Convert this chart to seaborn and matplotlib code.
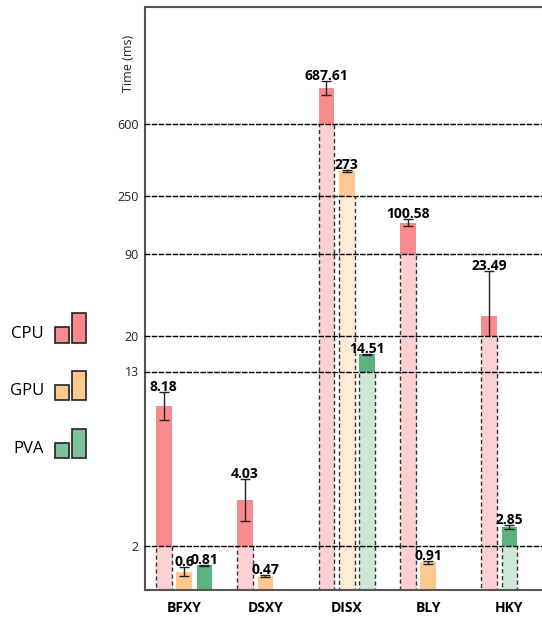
import numpy as np
import pandas as pd
import matplotlib.pyplot as plt
import seaborn as sns
from matplotlib.patches import Rectangle

# data (ms)
datasets = ['BFXY', 'DSXY', 'DISX', 'BLY', 'HKY']
devices = ['CPU', 'GPU', 'PVA']
cpu_ms = [8.18, 4.03, 687.61, 100.58, 23.49]
gpu_ms = [0.6, 0.47, 273, 0.91, np.nan]
pva_ms = [0.81, np.nan, 14.51, np.nan, 2.85]
cpu_err = [0.62, 0.93, 17, 1.1, 7.75]
gpu_err = [0.155, 0.03, 1.0, 0.04, np.nan]
pva_err = [0.03, np.nan, 0.06, np.nan, 0.09]

# broken y axis, one linear band per range (bottom to top)
band_lims = [(0, 1.45), (2, 9.7), (13, 16.1), (20, 34.1), (90, 109.5), (250, 316.2), (600, 887)]
band_ticks = [None, '2', '13', '20', '90', '250', '600']

solid = {'CPU': '#f98b8f', 'GPU': '#fec88e', 'PVA': '#5cb27d'}
light = {'CPU': '#fdd0d1', 'GPU': '#ffebd6', 'PVA': '#cde8d6'}
legend_col = {'CPU': '#f98a8e', 'GPU': '#fec98f', 'PVA': '#7cc39a'}

# bars of a dataset sit side by side, in device order, without gaps for missing ones
rows = []
for i, ds in enumerate(datasets):
    slot = 0
    for dev, vals, errs in zip(devices, [cpu_ms, gpu_ms, pva_ms], [cpu_err, gpu_err, pva_err]):
        if not np.isnan(vals[i]):
            rows.append({'dataset': ds, 'device': dev, 'slot': slot, 'ms': vals[i], 'err': errs[i]})
            slot += 1
df = pd.DataFrame(rows)
info = {r.ms: (r.device, r.err) for r in df.itertuples()}

sns.set_style('white')
plt.rcParams['font.family'] = ['Open Sans', 'DejaVu Sans']
plt.rcParams['text.color'] = 'black'

W, H = 542, 621
fig = plt.figure(figsize=(W / 100, H / 100), dpi=100)

# pixel rows of the band edges, bottom to top
edges = [590, 546, 371.5, 336, 254.3, 196, 124, 7]
ax_left, ax_w = 145 / W, 403.5 / W
spine_col = '#555555'
dash = (0, (3, 2))

for i, (lo, hi) in enumerate(band_lims):
    ax = fig.add_axes([ax_left, (H - edges[i]) / H, ax_w, (edges[i] - edges[i + 1]) / H])
    sns.barplot(data=df, x='dataset', y='ms', hue='slot', order=datasets,
                hue_order=[0, 1, 2], palette=['#cccccc'] * 3, saturation=1,
                width=0.75, gap=0.23, errorbar=None, legend=False, linewidth=0, ax=ax)
    ax.set_xlim(-0.48, 4.48)
    ax.set_ylim(lo, hi)
    ax.patch.set_visible(False)

    for p in ax.patches:
        h = p.get_height()
        if h not in info:
            continue
        dev, err = info[h]
        xc = p.get_x() + p.get_width() / 2
        p.set_facecolor(solid[dev])
        if h > hi:
            p.set_facecolor(light[dev])
            p.set_edgecolor('#333333')
            p.set_linewidth(1)
            p.set_linestyle(dash)
        elif h >= lo:
            ax.errorbar(xc, h, yerr=err, fmt='none', ecolor='#222222',
                        elinewidth=1, capsize=3.4, capthick=1)
            ax.annotate(f'{h:g}', (xc, h + err), xytext=(0, -1.5),
                        textcoords='offset points', ha='center', va='bottom',
                        fontsize=10, fontweight='bold', color='black',
                        annotation_clip=False)

    for s in ['left', 'right', 'top', 'bottom']:
        ax.spines[s].set_visible(False)
    ax.spines['left'].set_visible(True)
    ax.spines['left'].set_color(spine_col)
    ax.spines['left'].set_linewidth(1.5)
    ax.spines['bottom'].set_visible(True)
    if i == 0:
        ax.spines['bottom'].set_color(spine_col)
        ax.spines['bottom'].set_linewidth(1.5)
        ax.tick_params(axis='x', length=0, pad=8, labelsize=10, labelcolor='black')
        for t in ax.get_xticklabels():
            t.set_fontweight('bold')
        ax.set_yticks([])
    else:
        ax.spines['bottom'].set_color('black')
        ax.spines['bottom'].set_linewidth(1)
        ax.spines['bottom'].set_linestyle(dash)
        ax.tick_params(axis='x', bottom=False, labelbottom=False)
        ax.set_yticks([lo])
        ax.set_yticklabels([band_ticks[i]])
        ax.tick_params(axis='y', length=0, pad=4.5, labelsize=9, labelcolor='#222222')
    if i == len(band_lims) - 1:
        ax.spines['top'].set_visible(True)
        ax.spines['top'].set_color(spine_col)
        ax.spines['top'].set_linewidth(1.5)
    ax.set_xlabel('')
    ax.set_ylabel('')

fig.text(129 / W, 1 - 63 / H, 'Time (ms)', rotation=90, ha='center', va='center',
         fontsize=9, color='#222222')

# legend on the left: a short and a tall swatch per device
legend_rows = {'CPU': 342.7, 'GPU': 400.3, 'PVA': 458.3}
for dev, base in legend_rows.items():
    fig.text(44 / W, 1 - (base - 9) / H, dev, ha='right', va='center', fontsize=12)
    for x0, hgt in [(55, 15.4), (71.5, 29.4)]:
        fig.add_artist(Rectangle((x0 / W, 1 - base / H), 14.5 / W, hgt / H,
                                 transform=fig.transFigure, facecolor=legend_col[dev],
                                 edgecolor='#222222', linewidth=1.2))

fig.savefig('out.png', dpi=100)
